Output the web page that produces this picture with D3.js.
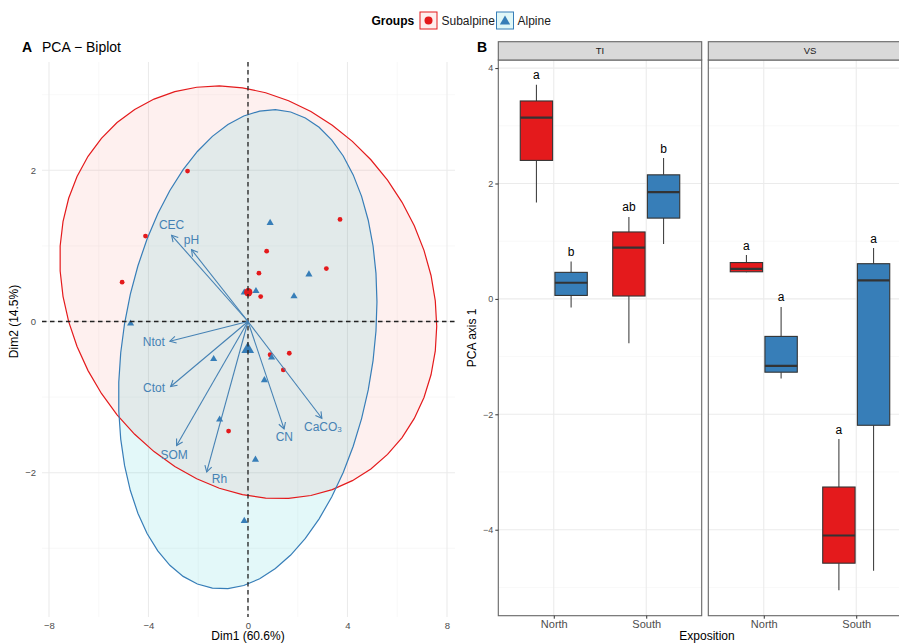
<!DOCTYPE html>
<html>
<head>
<meta charset="utf-8">
<script src="https://cdn.jsdelivr.net/npm/d3@7"></script>
<style>
  html, body { margin: 0; padding: 0; background: #fff; }
  svg { display: block; font-family: "Liberation Sans", Arial, Helvetica, sans-serif; }
</style>
</head>
<body>
<svg id="chart" width="899" height="643"></svg>
<script>
// ---- Data -------------------------------------------------------------
const groups = ["Subalpine", "Alpine"];

// PCA individual scores (Dim1, Dim2)
const subalpineDim1 = [-2.43, 3.70, -4.12, 0.75, 0.44, 3.15, -5.06, 0.51, 0.89, 1.66, 1.42, -0.78];
const subalpineDim2 = [ 1.99, 1.35,  1.13, 0.93, 0.64, 0.70,  0.52, 0.33, -0.44, -0.42, -0.64, -1.45];
const alpineDim1 = [0.89, 2.45, -0.15, 0.32, 1.85, -4.72, 0.95, -1.38, 0.66, -1.14, 0.30, -0.15];
const alpineDim2 = [1.31, 0.63,  0.39, 0.41, 0.34, -0.02, -0.47, -0.49, -0.77, -1.29, -1.82, -2.63];

// Variable loadings (arrow tips, biplot scale)
const variableNames = ["CEC", "pH", "Ntot", "Ctot", "SOM", "Rh", "CN", "CaCO3"];
const variableDim1 = [-3.07, -2.27, -3.14, -3.11, -2.87, -1.66, 1.45, 2.97];
const variableDim2 = [ 1.14,  0.95, -0.26, -0.86, -1.64, -1.99, -1.42, -1.28];

// Axis ticks, panel A
const dim1Ticks = [-8, -4, 0, 4, 8];
const dim1Minor = [-6, -2, 2, 6];
const dim2Ticks = [-2, 0, 2];
const dim2Minor = [-3, -1, 1, 3];

// Box plot statistics, panel B: [lower whisker, Q1, median, Q3, upper whisker]
const sites = ["TI", "VS"];
const expositions = ["North", "South"];
const tiSubalpine = { North: [1.67, 2.40, 3.14, 3.43, 3.71], South: [-0.77, 0.05, 0.89, 1.16, 1.42] };
const tiAlpine    = { North: [-0.15, 0.06, 0.28, 0.46, 0.65], South: [0.95, 1.40, 1.85, 2.15, 2.44] };
const vsSubalpine = { North: [0.46, 0.47, 0.52, 0.63, 0.76], South: [-5.05, -4.58, -4.10, -3.26, -2.43] };
const vsAlpine    = { North: [-1.38, -1.27, -1.16, -0.65, -0.14], South: [-4.71, -2.19, 0.32, 0.61, 0.88] };
const tiLetters = { Subalpine: { North: "a", South: "ab" }, Alpine: { North: "b", South: "b" } };
const vsLetters = { Subalpine: { North: "a", South: "a" }, Alpine: { North: "a", South: "a" } };
const pcaTicks = [-4, -2, 0, 2, 4];
const pcaMinor = [-5, -3, -1, 1, 3];

// ---- Styling ----------------------------------------------------------
const groupColor = { Subalpine: "#E41A1C", Alpine: "#377EB8" };
const ellipseFill = { Subalpine: "#F8766D", Alpine: "#00BFC4" };
const arrowColor = "#4682B4";
const gridMajor = "#EBEBEB";
const gridMinor = "#F3F3F3";
const tickText = "#4D4D4D";

// Label nudges (px) relative to each arrow tip
const labelNudge = {
  CEC: [0, -10.5], pH: [0, -9.5], Ntot: [-16, 1], Ctot: [-16.5, 1],
  SOM: [-2.5, 9.5], Rh: [12.8, 6.5], CN: [0.3, 8], CaCO3: [1, 8.5]
};

const svg = d3.select("#chart");

// ---- Legend -----------------------------------------------------------
const legend = svg.append("g");
legend.append("text").attr("x", 371.5).attr("y", 24.5)
  .attr("font-size", 12).attr("font-weight", "bold").attr("fill", "#000").text("Groups");
const legendItems = [
  { g: "Subalpine", x: 420, tx: 441.5 },
  { g: "Alpine", x: 496.5, tx: 517.5 }
];
legendItems.forEach(it => {
  legend.append("rect").attr("x", it.x).attr("y", 12).attr("width", 17).attr("height", 17)
    .attr("fill", ellipseFill[it.g]).attr("fill-opacity", 0.12)
    .attr("stroke", groupColor[it.g]).attr("stroke-width", 1);
  if (it.g === "Subalpine") {
    legend.append("circle").attr("cx", it.x + 8.5).attr("cy", 20.5).attr("r", 4).attr("fill", groupColor[it.g]);
  } else {
    legend.append("path").attr("d", d3.symbol(d3.symbolTriangle, 46)())
      .attr("transform", `translate(${it.x + 8.5},${21.5})`).attr("fill", groupColor[it.g]);
  }
  legend.append("text").attr("x", it.tx).attr("y", 25).attr("font-size", 12).attr("fill", "#1A1A1A").text(it.g);
});

// ---- Panel A: PCA biplot ------------------------------------------------
const A = { left: 42, right: 455, top: 62, bottom: 617 };
const xA = d3.scaleLinear().domain([-8.281, 8.322]).range([A.left, A.right]);
const yA = d3.scaleLinear().domain([-3.909, 3.433]).range([A.bottom, A.top]);
const gA = svg.append("g");

svg.append("text").attr("x", 22).attr("y", 52).attr("font-size", 14).attr("font-weight", "bold").text("A");
svg.append("text").attr("x", 42).attr("y", 52).attr("font-size", 14).attr("fill", "#000").text("PCA \u2212 Biplot");

// grid
dim1Minor.forEach(v => gA.append("line").attr("x1", xA(v)).attr("x2", xA(v)).attr("y1", A.top).attr("y2", A.bottom)
  .attr("stroke", gridMinor).attr("stroke-width", 0.6));
dim2Minor.forEach(v => gA.append("line").attr("y1", yA(v)).attr("y2", yA(v)).attr("x1", A.left).attr("x2", A.right)
  .attr("stroke", gridMinor).attr("stroke-width", 0.6));
dim1Ticks.forEach(v => gA.append("line").attr("x1", xA(v)).attr("x2", xA(v)).attr("y1", A.top).attr("y2", A.bottom)
  .attr("stroke", gridMajor).attr("stroke-width", 1.1));
dim2Ticks.forEach(v => gA.append("line").attr("y1", yA(v)).attr("y2", yA(v)).attr("x1", A.left).attr("x2", A.right)
  .attr("stroke", gridMajor).attr("stroke-width", 1.1));

// axes (labels only, minimal theme)
const axA = d3.axisBottom(xA).tickValues(dim1Ticks).tickSize(0).tickPadding(0).tickFormat(d => d3.format("")(d).replace("-", "\u2212"));
const gx = gA.append("g").attr("transform", `translate(0,${A.bottom + 1})`).call(axA);
gx.select(".domain").remove();
gx.selectAll("text").attr("font-size", 9.5).attr("fill", tickText).attr("font-family", null).attr("dy", "0.71em").attr("y", 4);
const ayA = d3.axisLeft(yA).tickValues(dim2Ticks).tickSize(0).tickPadding(0).tickFormat(d => d3.format("")(d).replace("-", "\u2212"));
const gy = gA.append("g").attr("transform", `translate(${A.left - 6},0)`).call(ayA);
gy.select(".domain").remove();
gy.selectAll("text").attr("font-size", 9.5).attr("fill", tickText).attr("font-family", null);

svg.append("text").attr("x", xA(0)).attr("y", 640).attr("text-anchor", "middle").attr("font-size", 12).text("Dim1 (60.6%)");
svg.append("text").attr("transform", `translate(18,${yA(0)}) rotate(-90)`).attr("text-anchor", "middle")
  .attr("font-size", 12).text("Dim2 (14.5%)");

// normal-theory 95% data ellipse for each group
function ellipsePoints(xs, ys, fq) {
  const n = xs.length;
  const mx = d3.mean(xs), my = d3.mean(ys);
  let sxx = 0, syy = 0, sxy = 0;
  for (let i = 0; i < n; i++) {
    sxx += (xs[i] - mx) ** 2; syy += (ys[i] - my) ** 2; sxy += (xs[i] - mx) * (ys[i] - my);
  }
  sxx /= n - 1; syy /= n - 1; sxy /= n - 1;
  const r11 = Math.sqrt(sxx), r12 = sxy / r11, r22 = Math.sqrt(syy - r12 * r12);
  const radius = Math.sqrt(2 * fq);
  const pts = [];
  for (let k = 0; k <= 51; k++) {
    const t = (k / 51) * 2 * Math.PI;
    const c = Math.cos(t), s = Math.sin(t);
    pts.push([mx + radius * c * r11, my + radius * (c * r12 + s * r22)]);
  }
  return { pts, mx, my };
}
const fQuantile95 = 3.982; // F(0.95; 2, 11)
const sets = [
  { g: "Subalpine", xs: subalpineDim1, ys: subalpineDim2 },
  { g: "Alpine", xs: alpineDim1, ys: alpineDim2 }
];
const line = d3.line().x(d => xA(d[0])).y(d => yA(d[1]));
sets.forEach(s => {
  s.ell = ellipsePoints(s.xs, s.ys, fQuantile95);
  gA.append("path").attr("d", line(s.ell.pts) + "Z").attr("fill", ellipseFill[s.g]).attr("fill-opacity", 0.11).attr("stroke", "none");
});
sets.forEach(s => {
  gA.append("path").attr("d", line(s.ell.pts) + "Z").attr("fill", "none").attr("stroke", groupColor[s.g]).attr("stroke-width", 1.2);
});

// individuals
sets.forEach(s => {
  s.xs.forEach((x, i) => {
    if (s.g === "Subalpine") {
      gA.append("circle").attr("cx", xA(x)).attr("cy", yA(s.ys[i])).attr("r", 2.4).attr("fill", groupColor[s.g]);
    } else {
      gA.append("path").attr("d", d3.symbol(d3.symbolTriangle, 22)())
        .attr("transform", `translate(${xA(x)},${yA(s.ys[i]) + 0.5})`).attr("fill", groupColor[s.g]);
    }
  });
});
// group centroids
sets.forEach(s => {
  if (s.g === "Subalpine") {
    gA.append("circle").attr("cx", xA(s.ell.mx)).attr("cy", yA(s.ell.my)).attr("r", 4.2).attr("fill", groupColor[s.g]);
  } else {
    gA.append("path").attr("d", d3.symbol(d3.symbolTriangle, 70)())
      .attr("transform", `translate(${xA(s.ell.mx)},${yA(s.ell.my)})`).attr("fill", groupColor[s.g]);
  }
});

// reference lines
gA.append("line").attr("x1", xA(0)).attr("x2", xA(0)).attr("y1", A.top).attr("y2", A.bottom)
  .attr("stroke", "#222").attr("stroke-width", 1.3).attr("stroke-dasharray", "4.5,3.5");
gA.append("line").attr("y1", yA(0)).attr("y2", yA(0)).attr("x1", A.left).attr("x2", A.right)
  .attr("stroke", "#222").attr("stroke-width", 1.3).attr("stroke-dasharray", "4.5,3.5");

// variable arrows
variableNames.forEach((name, i) => {
  const x0 = xA(0), y0 = yA(0), x1 = xA(variableDim1[i]), y1 = yA(variableDim2[i]);
  gA.append("line").attr("x1", x0).attr("y1", y0).attr("x2", x1).attr("y2", y1)
    .attr("stroke", arrowColor).attr("stroke-width", 1.1);
  const ang = Math.atan2(y1 - y0, x1 - x0), L = 7, w = Math.PI / 6;
  const head = `M${x1 - L * Math.cos(ang - w)},${y1 - L * Math.sin(ang - w)}L${x1},${y1}L${x1 - L * Math.cos(ang + w)},${y1 - L * Math.sin(ang + w)}`;
  gA.append("path").attr("d", head).attr("fill", "none").attr("stroke", arrowColor).attr("stroke-width", 1.1);
  const nd = labelNudge[name];
  const t = gA.append("text").attr("x", x1 + nd[0]).attr("y", y1 + nd[1]).attr("dy", "0.35em")
    .attr("text-anchor", "middle").attr("font-size", 12).attr("fill", arrowColor);
  if (name === "CaCO3") {
    t.append("tspan").text("CaCO");
    t.append("tspan").attr("font-size", 8).attr("dy", "0.15em").text("3");
  } else {
    t.text(name);
  }
});

// ---- Panel B: box plots ---------------------------------------------------
svg.append("text").attr("x", 477).attr("y", 52).attr("font-size", 14).attr("font-weight", "bold").text("B");
const B = { top: 60, bottom: 615.7, stripTop: 41.7 };
const panelX = { TI: [498.3, 701.7], VS: [708.3, 911.7] };
const yB = d3.scaleLinear().domain([-5.49, 4.14]).range([B.bottom, B.top]);
const boxStats = { TI: { Subalpine: tiSubalpine, Alpine: tiAlpine }, VS: { Subalpine: vsSubalpine, Alpine: vsAlpine } };
const letters = { TI: tiLetters, VS: vsLetters };
const dodge = { Subalpine: -0.1875, Alpine: 0.1875 };
const boxWidth = 0.35;

sites.forEach(site => {
  const [x0, x1] = panelX[site];
  const xs = d3.scaleLinear().domain([0.4, 2.6]).range([x0, x1]);
  const xIdx = { North: 1, South: 2 };
  const g = svg.append("g");
  g.append("rect").attr("x", x0).attr("y", B.top).attr("width", x1 - x0).attr("height", B.bottom - B.top).attr("fill", "#fff");
  pcaMinor.forEach(v => g.append("line").attr("x1", x0).attr("x2", x1).attr("y1", yB(v)).attr("y2", yB(v))
    .attr("stroke", gridMinor).attr("stroke-width", 0.6));
  pcaTicks.forEach(v => g.append("line").attr("x1", x0).attr("x2", x1).attr("y1", yB(v)).attr("y2", yB(v))
    .attr("stroke", gridMajor).attr("stroke-width", 1.1));
  expositions.forEach(e => g.append("line").attr("x1", xs(xIdx[e])).attr("x2", xs(xIdx[e])).attr("y1", B.top).attr("y2", B.bottom)
    .attr("stroke", gridMajor).attr("stroke-width", 1.1));

  groups.forEach(grp => {
    expositions.forEach(e => {
      const [lo, q1, med, q3, hi] = boxStats[site][grp][e];
      const cx = xs(xIdx[e] + dodge[grp]);
      const hw = (xs(boxWidth) - xs(0)) / 2;
      g.append("line").attr("x1", cx).attr("x2", cx).attr("y1", yB(hi)).attr("y2", yB(q3)).attr("stroke", "#444").attr("stroke-width", 1.1);
      g.append("line").attr("x1", cx).attr("x2", cx).attr("y1", yB(q1)).attr("y2", yB(lo)).attr("stroke", "#444").attr("stroke-width", 1.1);
      g.append("rect").attr("x", cx - hw).attr("y", yB(q3)).attr("width", 2 * hw).attr("height", yB(q1) - yB(q3))
        .attr("fill", groupColor[grp]).attr("stroke", "#333").attr("stroke-width", 1.1);
      g.append("line").attr("x1", cx - hw).attr("x2", cx + hw).attr("y1", yB(med)).attr("y2", yB(med))
        .attr("stroke", "#333").attr("stroke-width", 2.2);
      g.append("text").attr("x", cx).attr("y", yB(hi) - 5.5).attr("text-anchor", "middle")
        .attr("font-size", 12).attr("fill", "#000").text(letters[site][grp][e]);
    });
  });

  g.append("rect").attr("x", x0).attr("y", B.top).attr("width", x1 - x0).attr("height", B.bottom - B.top)
    .attr("fill", "none").attr("stroke", "#666").attr("stroke-width", 1.1);
  // strip
  g.append("rect").attr("x", x0).attr("y", B.stripTop).attr("width", x1 - x0).attr("height", B.top - B.stripTop)
    .attr("fill", "#D9D9D9").attr("stroke", "#666").attr("stroke-width", 1.1);
  g.append("text").attr("x", (x0 + x1) / 2).attr("y", (B.stripTop + B.top) / 2).attr("dy", "0.35em")
    .attr("text-anchor", "middle").attr("font-size", 9.5).attr("fill", "#1A1A1A").text(site);

  // x axis
  const xb = d3.axisBottom(xs).tickValues([1, 2]).tickSize(3).tickPadding(2).tickFormat(d => expositions[d - 1]);
  const gxb = svg.append("g").attr("transform", `translate(0,${B.bottom})`).call(xb);
  gxb.select(".domain").remove();
  gxb.selectAll("line").attr("stroke", "#333");
  gxb.selectAll("text").attr("font-size", 11).attr("fill", tickText).attr("font-family", null);
});

// y axis, panel B
const yAxisB = d3.axisLeft(yB).tickValues(pcaTicks).tickSize(3).tickPadding(2).tickFormat(d => d3.format("")(d).replace("-", "\u2212"));
const gyb = svg.append("g").attr("transform", `translate(${panelX.TI[0]},0)`).call(yAxisB);
gyb.select(".domain").remove();
gyb.selectAll("line").attr("stroke", "#333");
gyb.selectAll("text").attr("font-size", 9).attr("fill", tickText).attr("font-family", null);

svg.append("text").attr("transform", `translate(476,${(B.top + B.bottom) / 2}) rotate(-90)`).attr("text-anchor", "middle")
  .attr("font-size", 12).text("PCA axis 1");
svg.append("text").attr("x", (panelX.TI[0] + panelX.VS[1]) / 2 + 2).attr("y", 640).attr("text-anchor", "middle")
  .attr("font-size", 12).text("Exposition");
</script>
</body>
</html>
